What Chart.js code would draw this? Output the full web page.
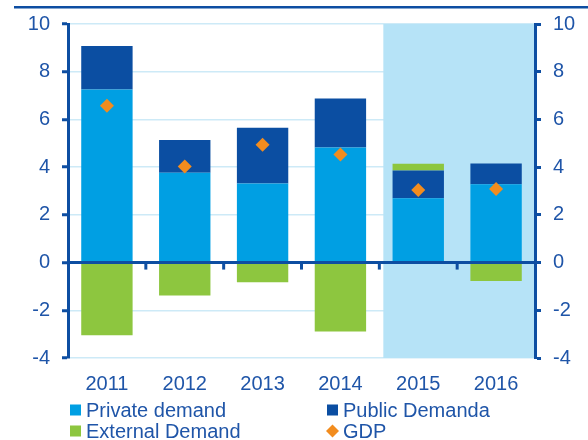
<!DOCTYPE html>
<html>
<head>
<meta charset="utf-8">
<script src="https://cdn.jsdelivr.net/npm/chart.js@4/dist/chart.umd.min.js"></script>
<style>
  html, body { margin: 0; padding: 0; background: #fff; }
  #wrap { width: 588px; height: 440px; }
</style>
</head>
<body>
<div id="wrap"><canvas id="c" width="588" height="440"></canvas></div>
<script>
const years = ['2011', '2012', '2013', '2014', '2015', '2016'];
const privateDemand = [7.25, 3.77, 3.31, 4.82, 2.70, 3.28];
const publicDemand = [1.83, 1.37, 2.34, 2.06, 1.16, 0.87];
const externalDemand = [-3.05, -1.38, -0.83, -2.89, 0.28, -0.77];
const gdp = [6.57, 4.03, 4.94, 4.53, 3.04, 3.08];
const forecastYears = ['2015', '2016'];

const DARK = '#0D4EA2';
const TEXT = '#1F55A8';
const FONT = '"Liberation Sans", Arial, sans-serif';

const legendItems = [
  { label: 'Private demand', color: '#009FE3', shape: 'square', col: 0, row: 0 },
  { label: 'Public Demanda', color: '#0B4EA2', shape: 'square', col: 1, row: 0 },
  { label: 'External Demand', color: '#8DC63F', shape: 'square', col: 0, row: 1 },
  { label: 'GDP', color: '#F28C1E', shape: 'diamond', col: 1, row: 1 }
];

const decor = {
  id: 'decor',
  beforeDatasetsDraw(chart) {
    // shaded forecast band
    const { ctx, chartArea, scales } = chart;
    const x = scales.x;
    const i = years.indexOf(forecastYears[0]);
    const left = (x.getPixelForValue(i - 1) + x.getPixelForValue(i)) / 2 + 4;
    ctx.save();
    ctx.fillStyle = '#B6E3F7';
    ctx.fillRect(left, chartArea.top, chartArea.right - left, chartArea.bottom - chartArea.top);
    ctx.restore();
  },
  afterDatasetsDraw(chart) {
    const { ctx, chartArea, scales } = chart;
    const y0 = scales.y.getPixelForValue(0);
    ctx.save();
    ctx.strokeStyle = DARK;
    ctx.lineWidth = 3;
    ctx.beginPath();
    ctx.moveTo(chartArea.left, y0);
    ctx.lineTo(chartArea.right, y0);
    ctx.stroke();
    // category ticks on zero line
    for (let i = 1; i < years.length; i++) {
      const xp = (scales.x.getPixelForValue(i - 1) + scales.x.getPixelForValue(i)) / 2;
      ctx.beginPath();
      ctx.moveTo(xp, y0);
      ctx.lineTo(xp, y0 + 7);
      ctx.stroke();
    }
    ctx.restore();
  },
  afterDraw(chart) {
    const ctx = chart.ctx;
    ctx.save();
    // top rule
    ctx.fillStyle = DARK;
    ctx.fillRect(14, 6, 574, 2.5);
    // legend, two columns
    ctx.font = '20px ' + FONT;
    ctx.textBaseline = 'middle';
    legendItems.forEach(it => {
      const bx = it.col ? 327 : 70;
      const cy = it.row ? 431 : 410;
      ctx.fillStyle = it.color;
      if (it.shape === 'square') {
        ctx.fillRect(bx, cy - 5.5, 11, 11);
      } else {
        ctx.beginPath();
        ctx.moveTo(bx - 1, cy);
        ctx.lineTo(bx + 5.5, cy - 6.5);
        ctx.lineTo(bx + 12, cy);
        ctx.lineTo(bx + 5.5, cy + 6.5);
        ctx.closePath();
        ctx.fill();
      }
      ctx.fillStyle = TEXT;
      ctx.fillText(it.label, bx + 16, cy + 1);
    });
    ctx.restore();
  }
};

const barCommon = { barPercentage: 0.66, categoryPercentage: 1, borderWidth: 0 };

new Chart(document.getElementById('c'), {
  data: {
    labels: years,
    datasets: [
      { type: 'line', label: 'GDP', data: gdp, showLine: false, order: -1,
        pointStyle: 'rectRot', pointRadius: 7, pointBackgroundColor: '#F28C1E',
        pointBorderColor: '#F28C1E', pointBorderWidth: 0, yAxisID: 'y' },
      Object.assign({ type: 'bar', label: 'Private demand', data: privateDemand, backgroundColor: '#009FE3' }, barCommon),
      Object.assign({ type: 'bar', label: 'Public Demanda', data: publicDemand, backgroundColor: '#0B4EA2' }, barCommon),
      Object.assign({ type: 'bar', label: 'External Demand', data: externalDemand, backgroundColor: '#8DC63F' }, barCommon)
    ]
  },
  options: {
    animation: false,
    responsive: false,
    devicePixelRatio: 1,
    layout: { padding: { top: 20, bottom: 42, left: 0, right: 0 } },
    plugins: { legend: { display: false }, tooltip: { enabled: false } },
    scales: {
      x: {
        stacked: true,
        grid: { display: false, drawTicks: false },
        border: { display: false },
        ticks: { color: TEXT, font: { family: FONT, size: 20 }, padding: 14 },
        afterFit(s) { s.height = 40; }
      },
      y: {
        stacked: true,
        position: 'left',
        min: -4, max: 10,
        ticks: { stepSize: 2, color: TEXT, font: { family: FONT, size: 20 }, padding: 12 },
        grid: { color: c => c.tick && c.tick.value === 0 ? 'rgba(0,0,0,0)' : '#CDEAF7', lineWidth: 1.5,
                tickColor: DARK, tickLength: 6, tickWidth: 3 },
        border: { color: DARK, width: 3, z: 1 },
        afterFit(s) { s.width = 68; }
      },
      y2: {
        position: 'right',
        min: -4, max: 10,
        ticks: { stepSize: 2, color: TEXT, font: { family: FONT, size: 20 }, padding: 12 },
        grid: { drawOnChartArea: false, tickColor: DARK, tickLength: 6, tickWidth: 3 },
        border: { color: DARK, width: 3, z: 1 },
        afterFit(s) { s.width = 53; }
      }
    }
  },
  plugins: [decor]
});
</script>
</body>
</html>
